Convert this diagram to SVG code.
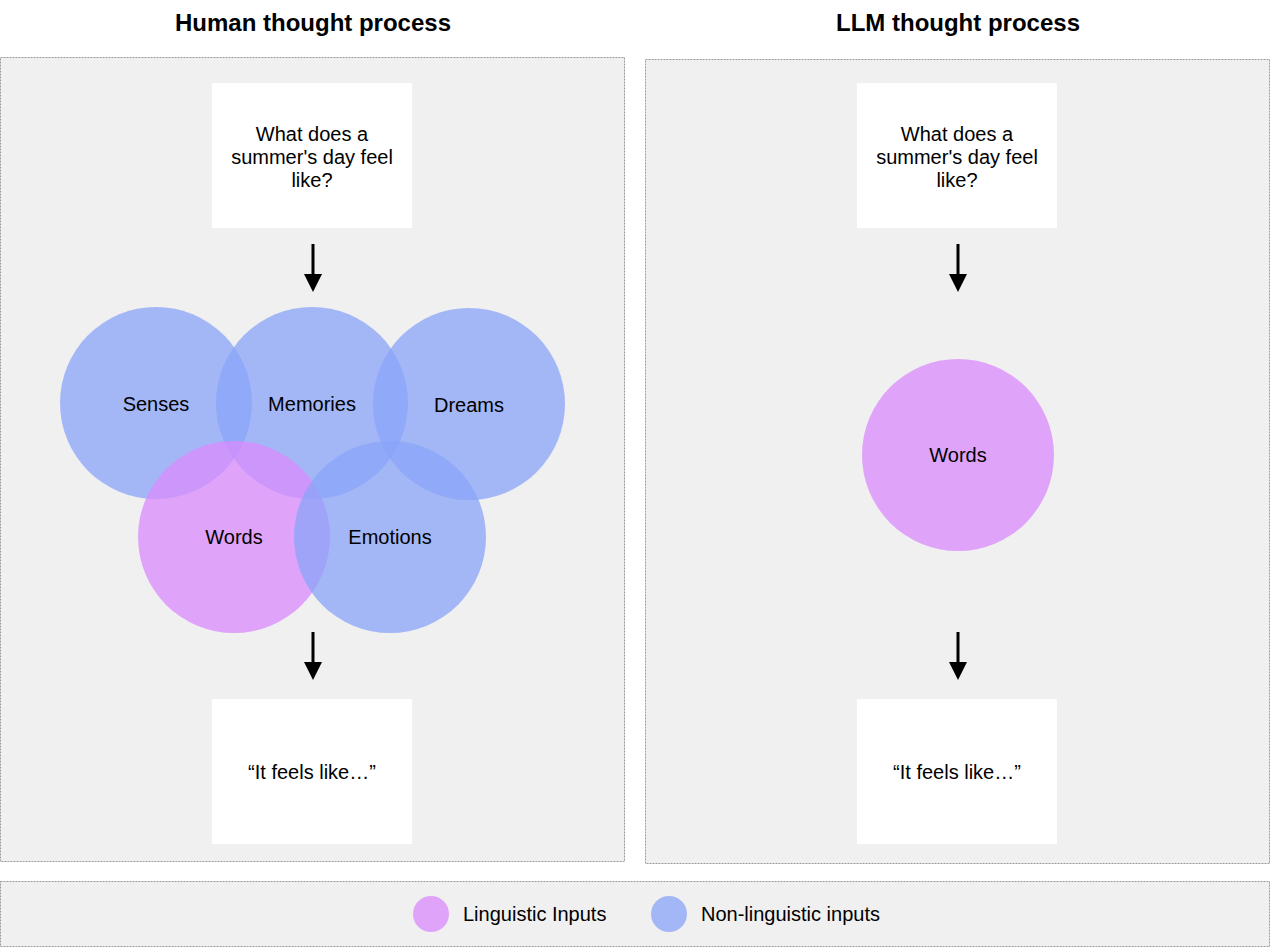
<svg xmlns="http://www.w3.org/2000/svg" width="1270" height="947" viewBox="0 0 1270 947">
<style>
.panel{fill:#f0f0f0;stroke:#999;stroke-width:1;stroke-dasharray:2,1}
.box{fill:#fff}
.t{font-family:"Liberation Sans",Arial,sans-serif;font-size:20px;fill:#000;text-anchor:middle}
.title{font-family:"Liberation Sans",Arial,sans-serif;font-size:24px;font-weight:bold;fill:#000;text-anchor:middle}
.lg{font-family:"Liberation Sans",Arial,sans-serif;font-size:20px;fill:#000}
.blue{fill:#8aa4f8;fill-opacity:0.75}
.pink{fill:#d98bfc;fill-opacity:0.75}
.arr{stroke:#000;stroke-width:3;fill:none}
</style>
<rect width="1270" height="947" fill="#fff"/>
<g id="titles">
<text class="title" x="313" y="31">Human thought process</text>
<text class="title" x="958" y="31">LLM thought process</text>
</g>
<g id="panel-left"><rect class="panel" x="0.5" y="57.5" width="624" height="804"/></g>
<g id="panel-right"><rect class="panel" x="645.5" y="59.5" width="624" height="804"/></g>
<g id="legend-panel"><rect class="panel" x="0.5" y="881.5" width="1269" height="65"/></g>

<g id="q-left"><rect class="box" x="212" y="83" width="200" height="145"/>
<text class="t" x="312" y="141">What does a</text>
<text class="t" x="312" y="164">summer's day feel</text>
<text class="t" x="312" y="187">like?</text></g>
<g id="a-left"><rect class="box" x="212" y="699" width="200" height="145"/>
<text class="t" x="312" y="779">“It feels like…”</text></g>
<g id="q-right"><rect class="box" x="857" y="83" width="200" height="145"/>
<text class="t" x="957" y="141">What does a</text>
<text class="t" x="957" y="164">summer's day feel</text>
<text class="t" x="957" y="187">like?</text></g>
<g id="a-right"><rect class="box" x="857" y="699" width="200" height="145"/>
<text class="t" x="957" y="779">“It feels like…”</text></g>

<g id="senses"><circle class="blue" cx="156" cy="403" r="96"/></g>
<g id="memories"><circle class="blue" cx="312" cy="403" r="96"/></g>
<g id="dreams"><circle class="blue" cx="469" cy="404" r="96"/></g>
<g id="words-left"><circle class="pink" cx="234" cy="537" r="96"/></g>
<g id="emotions"><circle class="blue" cx="390" cy="537" r="96"/></g>
<g id="circle-labels">
<text class="t" x="156" y="411">Senses</text>
<text class="t" x="312" y="411">Memories</text>
<text class="t" x="469" y="412">Dreams</text>
<text class="t" x="234" y="544">Words</text>
<text class="t" x="390" y="544">Emotions</text>
</g>
<g id="words-right"><circle class="pink" cx="958" cy="455" r="96"/>
<text class="t" x="958" y="462">Words</text></g>

<g id="connectors">
<line class="arr" x1="313" y1="244" x2="313" y2="275"/><polygon points="304,274 322,274 313,292"/>
<line class="arr" x1="313" y1="632" x2="313" y2="663"/><polygon points="304,662 322,662 313,680"/>
<line class="arr" x1="958" y1="244" x2="958" y2="275"/><polygon points="949,274 967,274 958,292"/>
<line class="arr" x1="958" y1="632" x2="958" y2="663"/><polygon points="949,662 967,662 958,680"/>
</g>

<g id="legend">
<circle class="pink" cx="431" cy="914" r="18"/>
<text class="lg" x="463" y="921">Linguistic Inputs</text>
<circle class="blue" cx="669" cy="914" r="18"/>
<text class="lg" x="701" y="921">Non-linguistic inputs</text>
</g>
</svg>
